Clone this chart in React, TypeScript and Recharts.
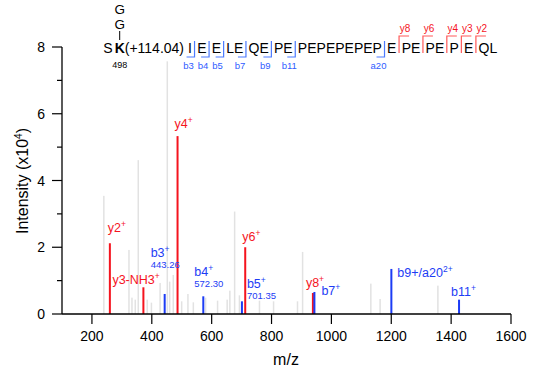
import React from 'react'
import { BarChart, Bar, XAxis, YAxis, LabelList } from 'recharts'

// unassigned peaks (m/z, intensity x10^4)
const grayMz = [240, 324, 334, 345, 355, 385, 399, 428, 452, 460, 472, 500, 521, 539, 580, 620, 652, 661, 677, 693, 760, 807, 887, 904, 1132, 1163, 1356]
const grayIntensity = [3.54, 1.92, 0.49, 0.43, 4.61, 0.43, 0.34, 0.93, 7.57, 0.97, 1.17, 0.38, 0.6, 0.35, 0.49, 0.4, 0.43, 0.7, 3.07, 0.56, 0.4, 0.38, 0.38, 1.86, 0.91, 0.45, 0.85]

// y ions (red)
const yMz = [260.16, 372.17, 486.25, 712.35, 938.45]
const yIntensity = [2.12, 0.8, 5.33, 2.0, 0.63]
const yNames = ['y2', 'y3-NH3', 'y4', 'y6', 'y8']

// b / a ions (blue)
const bMz = [443.26, 572.3, 701.35, 943.47, 1200.57, 1426.66]
const bIntensity = [0.6, 0.53, 0.38, 0.66, 1.35, 0.43]
const bNames = ['b3', 'b4', 'b5', 'b7', 'b9+/a20', 'b11']
const bCharges = ['+', '+', '+', '+', '2+', '+']
const bMasses = ['443.26', '572.30', '701.35', '', '', '']

const xTicks = [200, 400, 600, 800, 1000, 1200, 1400, 1600]
const yTicks = [0, 1, 2, 3, 4, 5, 6, 7, 8]

// peptide
const residues = ('SKIEELEQE' + 'PE'.repeat(9) + 'QL').split('')
const bBreaks = [3, 4, 5, 7, 9, 11, 20]
const bBreakNames = ['b3', 'b4', 'b5', 'b7', 'b9', 'b11', 'a20']
const yBreaks = [8, 6, 4, 3, 2]

const RED = '#f5141e'
const BLUE = '#1c3cf5'
const GRAY = '#e2e2e2'
const FONT = '"Liberation Sans", Arial, Helvetica, sans-serif'

type Peak = { mz: number; intensity: number; kind: 'gray' | 'y' | 'b'; name?: string; charge?: string; mass?: string }

const peaks: Peak[] = [
  ...grayMz.map((mz, i) => ({ mz, intensity: grayIntensity[i], kind: 'gray' as const })),
  ...yMz.map((mz, i) => ({ mz, intensity: yIntensity[i], kind: 'y' as const, name: yNames[i], charge: '+' })),
  ...bMz.map((mz, i) => ({ mz, intensity: bIntensity[i], kind: 'b' as const, name: bNames[i], charge: bCharges[i], mass: bMasses[i] })),
]

// label offsets from the peak top
const labelOffset: Record<string, [number, number]> = {
  y2: [-2, -11],
  'y3-NH3': [-31, -3.5],
  y4: [-3, -8],
  y6: [-3, -6],
  y8: [-7, -6],
  b3: [-14, -36.5],
  b4: [-9, -20],
  b5: [5, -13],
  b7: [7, 3],
  'b9+/a20': [6, 8],
  b11: [-8, -4],
}

const PeakShape = (props: any) => {
  const { x, y, width, height, payload } = props
  const w = payload.kind === 'gray' ? 1.5 : 2
  return (
    <rect
      x={x + width / 2 - w / 2}
      y={y}
      width={w}
      height={Math.max(height, 0)}
      fill={payload.kind === 'gray' ? GRAY : payload.kind === 'y' ? RED : BLUE}
    />
  )
}

const PeakLabel = (props: any) => {
  const { x, y, width, index } = props
  const p = peaks[index]
  if (!p || !p.name) return null
  const [dx, dy] = labelOffset[p.name]
  const color = p.kind === 'y' ? RED : BLUE
  const lx = x + width / 2 + dx
  const ly = y + dy
  return (
    <g fontFamily={FONT}>
      <text x={lx} y={ly} fill={color} fontSize={12.5}>
        {p.name}
        <tspan fontSize={8.5} dy={-5}>{p.charge}</tspan>
      </text>
      {p.mass ? (
        <text x={lx} y={ly + 11} fill={color} fontSize={9.5}>{p.mass}</text>
      ) : null}
    </g>
  )
}

const YTick = (props: any) => {
  const { x, y, payload } = props
  const major = payload.value % 2 === 0
  return (
    <g>
      <line x1={x - (major ? 10 : 5)} x2={x} y1={y} y2={y} stroke="#000" strokeWidth={1.2} />
      {major && (
        <text x={x - 17} y={y + 5} textAnchor="end" fontSize={14} fill="#000" fontFamily={FONT}>
          {payload.value}
        </text>
      )}
    </g>
  )
}

// widths of 14px Arial letters
const charW: Record<string, number> = { S: 9.34, K: 10.11, I: 3.89, E: 9.34, P: 9.34, L: 7.79, Q: 10.89 }

function Sequence() {
  const gap = 5.2
  const base = 53
  const startX = 103.3
  const items: React.ReactNode[] = []
  const breakX: Record<number, number> = {}
  let cx = startX
  const yBreakAfter = yBreaks.map((n) => residues.length - n)
  let kCenter = 0
  residues.forEach((r, i) => {
    const pos = i + 1
    items.push(
      <text key={'r' + i} x={cx} y={base} fontSize={14} fontWeight={r === 'K' && pos === 2 ? 'bold' : 'normal'} fill="#000">
        {r}
      </text>
    )
    if (pos === 1) {
      cx += charW.S + 2
      return
    }
    if (pos === 2) {
      kCenter = cx + charW.K / 2
      cx += charW.K
      items.push(
        <text key="mod" x={cx} y={base} fontSize={14} fill="#000">(+114.04)</text>
      )
      cx += 60.3 + 3
      return
    }
    cx += charW[r]
    if (bBreaks.includes(pos) || yBreakAfter.includes(pos)) {
      breakX[pos] = cx + gap / 2
      cx += gap
    }
  })

  bBreaks.forEach((pos, i) => {
    const bx = breakX[pos]
    items.push(
      <g key={'b' + pos}>
        <path d={`M${bx},41 L${bx},57 L${bx - 8},57`} fill="none" stroke="#4d7bff" strokeWidth={1.2} />
        <text x={bx - 6} y={69} fontSize={9.5} fill="#2f5cff" textAnchor="middle">{bBreakNames[i]}</text>
      </g>
    )
  })
  yBreaks.forEach((n) => {
    const bx = breakX[residues.length - n]
    items.push(
      <g key={'y' + n}>
        <path d={`M${bx},53 L${bx},36 L${bx + 10},36`} fill="none" stroke="#ff5a5a" strokeWidth={1.2} />
        <text x={bx + 6} y={32} fontSize={10} fill={RED} textAnchor="middle">{'y' + n}</text>
      </g>
    )
  })

  return (
    <g fontFamily={FONT}>
      {items}
      <text x={kCenter} y={13.5} fontSize={13.5} textAnchor="middle" fill="#000">G</text>
      <text x={kCenter} y={29} fontSize={13.5} textAnchor="middle" fill="#000">G</text>
      <line x1={kCenter} x2={kCenter} y1={31} y2={40} stroke="#000" strokeWidth={1} />
      <text x={kCenter} y={68} fontSize={9} textAnchor="middle" fill="#000">498</text>
    </g>
  )
}

export default function App() {
  return (
    <div style={{ position: 'absolute', left: 0, top: 0, width: 551, height: 372, background: '#fff', fontFamily: FONT }}>
      <BarChart
        width={551}
        height={372}
        data={peaks}
        margin={{ top: 47, right: 40, bottom: 0, left: 0 }}
        barCategoryGap={0}
      >
        <XAxis
          dataKey="mz"
          type="number"
          domain={[100, 1600]}
          ticks={xTicks}
          allowDataOverflow
          height={58}
          tickSize={10}
          tickMargin={7}
          tickLine={{ stroke: '#000', strokeWidth: 1.2 }}
          axisLine={{ stroke: '#000', strokeWidth: 1.3 }}
          tick={{ fill: '#000', fontSize: 14, fontFamily: FONT }}
        />
        <YAxis
          type="number"
          domain={[0, 8]}
          ticks={yTicks}
          width={62}
          tickSize={0}
          tickMargin={0}
          tickLine={false}
          axisLine={{ stroke: '#000', strokeWidth: 1.3 }}
          tick={<YTick />}
          interval={0}
        />
        <Bar dataKey="intensity" barSize={2} shape={<PeakShape />} isAnimationActive={false}>
          <LabelList dataKey="intensity" content={<PeakLabel />} />
        </Bar>
      </BarChart>
      <svg width={551} height={372} style={{ position: 'absolute', left: 0, top: 0, pointerEvents: 'none' }}>
        <Sequence />
        <text
          transform="translate(28,181) rotate(-90)"
          textAnchor="middle"
          fontSize={16}
          fill="#000"
          fontFamily={FONT}
        >
          Intensity (x10<tspan fontSize={10} dy={-6}>4</tspan><tspan dy={6}>)</tspan>
        </text>
        <text x={286} y={365} textAnchor="middle" fontSize={16} fill="#000" fontFamily={FONT}>m/z</text>
      </svg>
    </div>
  )
}
